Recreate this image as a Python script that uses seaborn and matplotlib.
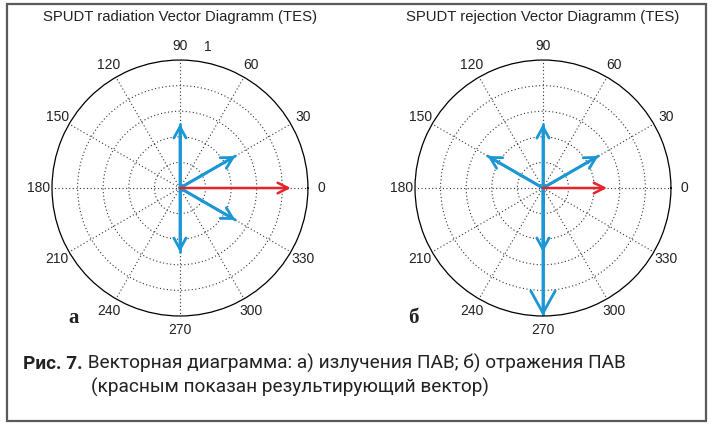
import numpy as np
import pandas as pd
import matplotlib.pyplot as plt
import seaborn as sns
from matplotlib.patches import Rectangle

# radiation diagram (a): component vectors and resulting vector
rad_angles = [90, 30, 330, 270]
rad_mags = [0.5, 0.5, 0.5, 0.5]
rad_res_angle = 0
rad_res_mag = 0.866

# rejection diagram (б)
rej_angles = [90, 30, 150, 270, 270]
rej_mags = [0.5, 0.5, 0.5, 0.5, 1.0]
rej_res_angle = 0
rej_res_mag = 0.5

theta_ticks = list(range(0, 360, 30))
r_ticks = [0.2, 0.4, 0.6, 0.8]
titles = ["SPUDT radiation Vector Diagramm (TES)", "SPUDT rejection Vector Diagramm (TES)"]
panel_letters = ["a", "б"]
caption_bold = "Рис. 7."
caption_1 = " Векторная диаграмма: а) излучения ПАВ; б) отражения ПАВ"
caption_2 = "(красным показан результирующий вектор)"

BLUE = "#1b97d5"
RED = "#e4232b"

sns.set_theme(style="white")
plt.rcParams["font.family"] = ["Liberation Sans", "DejaVu Sans"]


def draw_panel(ax, angles, mags, res_angle, res_mag):
    rows = []
    for i, (a, m) in enumerate(zip(angles, mags)):
        rows.append({"theta": np.deg2rad(a), "r": 0.0, "vec": i})
        rows.append({"theta": np.deg2rad(a), "r": m, "vec": i})
    df = pd.DataFrame(rows)
    sns.lineplot(data=df, x="theta", y="r", units="vec", estimator=None,
                 sort=False, color=BLUE, lw=2, ax=ax, legend=False)
    for a, m in zip(angles, mags):
        hl = 16 * m
        ax.annotate("", xy=(np.deg2rad(a), m), xytext=(np.deg2rad(a), 0),
                    arrowprops=dict(arrowstyle=f"->,head_length={hl},head_width={0.55 * hl}",
                                    color=BLUE, lw=2, shrinkA=0, shrinkB=0,
                                    mutation_scale=1))
    ax.annotate("", xy=(np.deg2rad(res_angle), res_mag), xytext=(np.deg2rad(res_angle), 0),
                arrowprops=dict(arrowstyle="->,head_length=7.5,head_width=3.8",
                                color=RED, lw=1.8, shrinkA=0, shrinkB=0,
                                mutation_scale=1))
    ax.set_xlabel("")
    ax.set_ylabel("")
    ax.set_ylim(0, 1)
    ax.set_thetagrids(theta_ticks, labels=[str(t) for t in theta_ticks])
    ax.set_rticks(r_ticks)
    ax.set_yticklabels([])
    ax.grid(True, color="0.2", linestyle=(0, (1, 2.2)), lw=0.8)
    ax.spines["polar"].set_color("black")
    ax.spines["polar"].set_linewidth(0.9)
    ax.tick_params(axis="x", labelsize=10, pad=-3, colors="#222222")


fig = plt.figure(figsize=(7.17, 4.28), dpi=100)
ax1 = fig.add_axes([0.0725, 0.2617, 0.357, 0.598], projection="polar")
ax2 = fig.add_axes([0.5788, 0.2617, 0.357, 0.598], projection="polar")

draw_panel(ax1, rad_angles, rad_mags, rad_res_angle, rad_res_mag)
draw_panel(ax2, rej_angles, rej_mags, rej_res_angle, rej_res_mag)
ax1.text(np.deg2rad(79), 1.12, "1", fontsize=10, ha="center", va="center", color="#222222")

fig.text(180 / 717, 1 - 17 / 428, titles[0], ha="center", va="center", fontsize=10.7, color="#222222")
fig.text(543 / 717, 1 - 17 / 428, titles[1], ha="center", va="center", fontsize=10.7, color="#222222")
for x, letter in zip([74, 413], panel_letters):
    fig.text(x / 717, 1 - 318 / 428, letter, ha="center", va="center", fontsize=15,
             fontweight="bold", family=["Liberation Serif", "DejaVu Serif"], color="#222222")

cap_font = ["Roboto", "DejaVu Sans"]
t_bold = fig.text(23 / 717, 1 - 369 / 428, caption_bold, fontsize=13.7, fontweight="bold",
                  family=cap_font, color="#222222", va="baseline")
fig.canvas.draw()
bb = t_bold.get_window_extent()
fig.text(bb.x1 / fig.bbox.width, 1 - 369 / 428, caption_1, fontsize=13.7,
         family=cap_font, color="#222222", va="baseline")
fig.text(91 / 717, 1 - 393 / 428, caption_2, fontsize=13.7,
         family=cap_font, color="#222222", va="baseline")

fig.patches.append(Rectangle((7 / 717, 1 - 421 / 428), 699 / 717, 417 / 428, fill=False,
                             edgecolor="#5a5a5a", lw=1.6, transform=fig.transFigure))

fig.savefig("out.png", dpi=100)
